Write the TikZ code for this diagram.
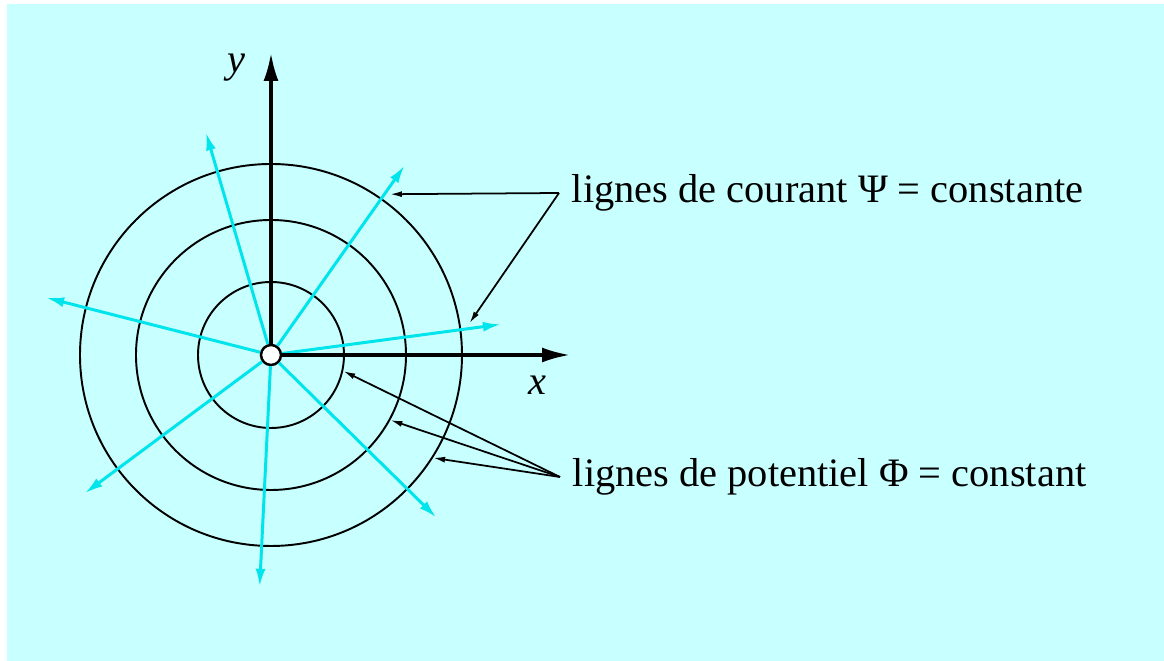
\documentclass[tikz,border=0pt]{standalone}
\usepackage{fontspec}
\setmainfont{Liberation Serif}
\usetikzlibrary{arrows.meta}
\definecolor{fond}{RGB}{200,255,255}
\definecolor{flux}{RGB}{0,228,235}

\begin{document}
\begin{tikzpicture}[x=0.02cm, y=0.02cm,
    every node/.style={font=\fontsize{23}{27}\selectfont},
    axe/.style={line width=1.8pt, -{Latex[length=0.56cm,width=0.3cm]}},
    ligne/.style={flux, line width=1.7pt, -{Latex[length=0.36cm,width=0.2cm]}},
    equi/.style={line width=1.1pt},
    renvoi/.style={line width=1pt, -{Latex[length=0.24cm,width=0.12cm]}},
    legende/.style={anchor=west, inner sep=0.25cm}]
    \useasboundingbox (-271,355) rectangle (893,-306);
    \fill[fond] (-264,351) rectangle (893,-306);

    % lignes equipotentielles
    \draw[equi] (0,0) circle[radius=73];
    \draw[equi] (0,0) circle[radius=135];
    \draw[equi] (0,0) circle[radius=191];

    \node[circle, draw, fill=white, line width=1.4pt, inner sep=0pt, minimum size=0.4cm] (O) at (0,0) {};
    \coordinate (ybout) at (0,302);
    \coordinate (xbout) at (299,0);

    % lignes de courant
    \foreach \a in {106.3,54.8,7.6,165.7,216.6,267.2,315.5}
        \draw[ligne] (O) -- (\a:232);

    \draw[axe] (O) -- (ybout);
    \draw[axe] (O) -- (xbout);
    \node (ly) at (-35,287) {\textit{y}};
    \node (lx) at (266,-30) {\textit{x}};

    \node[legende] (lc) at (288,162) {lignes de courant Ψ = constante};
    \node[legende] (lp) at (289,-122) {lignes de potentiel Φ = constant};

    \coordinate (c1) at (53.5:200);
    \coordinate (c2) at (9.1:201);
    \coordinate (p1) at (-12.5:74);
    \coordinate (p2) at (-28.6:136);
    \coordinate (p3) at (-32.4:192);

    \draw[renvoi] (lc.west) -- (c1);
    \draw[renvoi] (lc.west) -- (c2);
    \draw[renvoi] (lp.west) -- (p1);
    \draw[renvoi] (lp.west) -- (p2);
    \draw[renvoi] (lp.west) -- (p3);
\end{tikzpicture}
\end{document}
